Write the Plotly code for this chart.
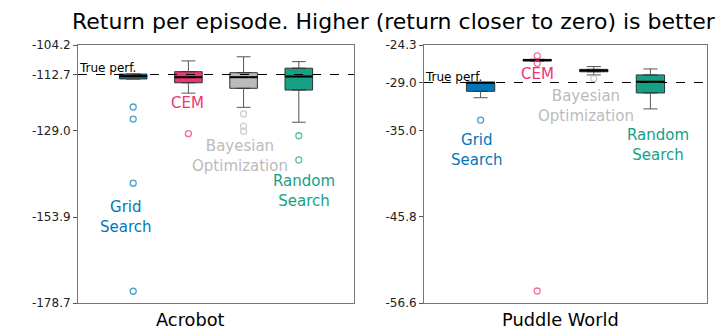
import plotly.graph_objects as go

# ---------------- data ----------------
methods = ["Grid Search", "CEM", "Bayesian Optimization", "Random Search"]
label_lines = ["Grid<br>Search", "CEM", "Bayesian<br>Optimization", "Random<br>Search"]
colors = ["#0077BB", "#EE3377", "#BBBBBB", "#16A085"]
positions = [1, 2, 3, 4]

# Acrobot
acro_q1 = [-114.0, -115.1, -116.7, -117.2]
acro_med = [-113.2, -113.5, -113.5, -113.3]
acro_q3 = [-112.6, -111.9, -112.2, -110.9]
acro_wlo = [-114.0, -118.1, -122.2, -126.5]
acro_whi = [-112.6, -108.8, -107.6, -109.0]
acro_out = [[-122.1, -125.6, -144.1, -175.3], [-129.8], [-124.1, -127.6, -129.1], [-130.4, -137.4]]
acro_true = -112.7
acro_ticks = [-104.2, -112.7, -129.0, -153.9, -178.7]
acro_label_pos = [(0.87, -154.0), (1.99, -120.9), (2.93, -136.3), (4.09, -146.4)]

# Puddle World
pw_q1 = [-30.1, -26.3, -27.65, -30.3]
pw_med = [-29.0, -26.2, -27.5, -28.9]
pw_q3 = [-29.0, -26.1, -27.35, -28.05]
pw_wlo = [-30.9, -26.3, -28.05, -32.3]
pw_whi = [-29.0, -26.1, -27.0, -27.3]
pw_out = [[-33.7], [-25.65, -26.6, -55.1], [-28.5], []]
pw_true = -29.0
pw_ticks = [-24.3, -29.0, -35.0, -45.8, -56.6]
pw_label_pos = [(0.94, -37.45), (2.0, -27.93), (2.86, -31.94), (4.13, -36.82)]

panel_titles = ["Acrobot", "Puddle World"]
main_title = "Return per episode. Higher (return closer to zero) is better"

FONT = "DejaVu Sans"
BOXW = 0.5
CAPW = 0.25

fig = go.Figure()


def add_panel(xa, ya, q1, med, q3, wlo, whi, outs, true_v, label_pos):
    # true performance line
    fig.add_trace(go.Scatter(x=[0, 5], y=[true_v, true_v], mode="lines",
                             line=dict(color="black", width=1.1, dash="dash"),
                             xaxis=xa, yaxis=ya, showlegend=False, hoverinfo="skip"))
    for i, p in enumerate(positions):
        # whiskers
        wx = [p, p, None, p - CAPW / 2, p + CAPW / 2, None, p, p, None, p - CAPW / 2, p + CAPW / 2]
        wy = [q3[i], whi[i], None, whi[i], whi[i], None, q1[i], wlo[i], None, wlo[i], wlo[i]]
        fig.add_trace(go.Scatter(x=wx, y=wy, mode="lines", line=dict(color="#555555", width=1),
                                 xaxis=xa, yaxis=ya, showlegend=False, hoverinfo="skip"))
        # box
        fig.add_trace(go.Box(x=[p], q1=[q1[i]], median=[med[i]], q3=[q3[i]],
                             lowerfence=[q1[i]], upperfence=[q3[i]], width=BOXW,
                             fillcolor=colors[i], line=dict(color="#333333", width=1),
                             boxpoints=False, xaxis=xa, yaxis=ya, showlegend=False,
                             name=methods[i]))
        # median
        fig.add_trace(go.Scatter(x=[p - BOXW / 2, p + BOXW / 2], y=[med[i], med[i]], mode="lines",
                                 line=dict(color="black", width=2),
                                 xaxis=xa, yaxis=ya, showlegend=False, hoverinfo="skip"))
        # outliers
        if outs[i]:
            fig.add_trace(go.Scatter(x=[p] * len(outs[i]), y=outs[i], mode="markers",
                                     marker=dict(symbol="circle-open", size=6, color=colors[i],
                                                 line=dict(width=1.3)),
                                     opacity=0.7, xaxis=xa, yaxis=ya, showlegend=False))
        # method label
        lx, ly = label_pos[i]
        fig.add_annotation(x=lx, y=ly, xref=xa, yref=ya, text=label_lines[i], showarrow=False,
                           xanchor="center", yanchor="middle",
                           font=dict(family=FONT, size=15, color=colors[i]), align="center")
    # true perf text
    fig.add_annotation(x=0, y=true_v, xref=xa, yref=ya, text="True perf.", showarrow=False,
                       xanchor="left", yanchor="bottom", yshift=-3, xshift=-1,
                       font=dict(family=FONT, size=12, color="black"))


add_panel("x", "y", acro_q1, acro_med, acro_q3, acro_wlo, acro_whi, acro_out, acro_true, acro_label_pos)
add_panel("x2", "y2", pw_q1, pw_med, pw_q3, pw_wlo, pw_whi, pw_out, pw_true, pw_label_pos)

axis_common = dict(showline=True, linecolor="#777777", linewidth=1, mirror=True,
                   showgrid=False, zeroline=False, automargin=False)

fig.update_layout(
    template="none",
    width=720, height=330, autosize=False,
    margin=dict(l=0, r=0, t=0, b=0, pad=0),
    paper_bgcolor="white", plot_bgcolor="white",
    font=dict(family=FONT, color="black"),
    boxmode="overlay",
    xaxis=dict(domain=[78 / 720, 354 / 720], range=[0, 5], showticklabels=False, ticks="",
               anchor="y", **axis_common),
    yaxis=dict(domain=[1 - 303 / 330, 1 - 45 / 330], range=[acro_ticks[-1], acro_ticks[0]],
               tickvals=acro_ticks, ticktext=[f"{v:.1f}" for v in acro_ticks],
               ticks="outside", ticklen=4, tickcolor="#555555",
               tickfont=dict(family=FONT, size=12, color="#222222"), anchor="x", **axis_common),
    xaxis2=dict(domain=[424 / 720, 707 / 720], range=[0, 5], showticklabels=False, ticks="",
                anchor="y2", **axis_common),
    yaxis2=dict(domain=[1 - 303 / 330, 1 - 45 / 330], range=[pw_ticks[-1], pw_ticks[0]],
                tickvals=pw_ticks, ticktext=[f"{v:.1f}" for v in pw_ticks],
                ticks="outside", ticklen=4, tickcolor="#555555",
                tickfont=dict(family=FONT, size=12, color="#222222"), anchor="x2", **axis_common),
)

fig.add_annotation(x=394 / 720, y=1 - 22 / 330, xref="paper", yref="paper", text=main_title,
                   xanchor="center", yanchor="middle",
                   showarrow=False, font=dict(family=FONT, size=22, color="black"))
fig.add_annotation(x=190 / 720, y=1 - 319.5 / 330, xref="paper", yref="paper", text=panel_titles[0],
                   xanchor="center", yanchor="middle",
                   showarrow=False, font=dict(family=FONT, size=17.8, color="black"))
fig.add_annotation(x=560 / 720, y=1 - 319.5 / 330, xref="paper", yref="paper", text=panel_titles[1],
                   xanchor="center", yanchor="middle",
                   showarrow=False, font=dict(family=FONT, size=17.8, color="black"))

fig.write_html("out.html",
               config={"displayModeBar": False, "staticPlot": True},
               post_script="document.body.style.margin='0';document.body.style.overflow='hidden';")
